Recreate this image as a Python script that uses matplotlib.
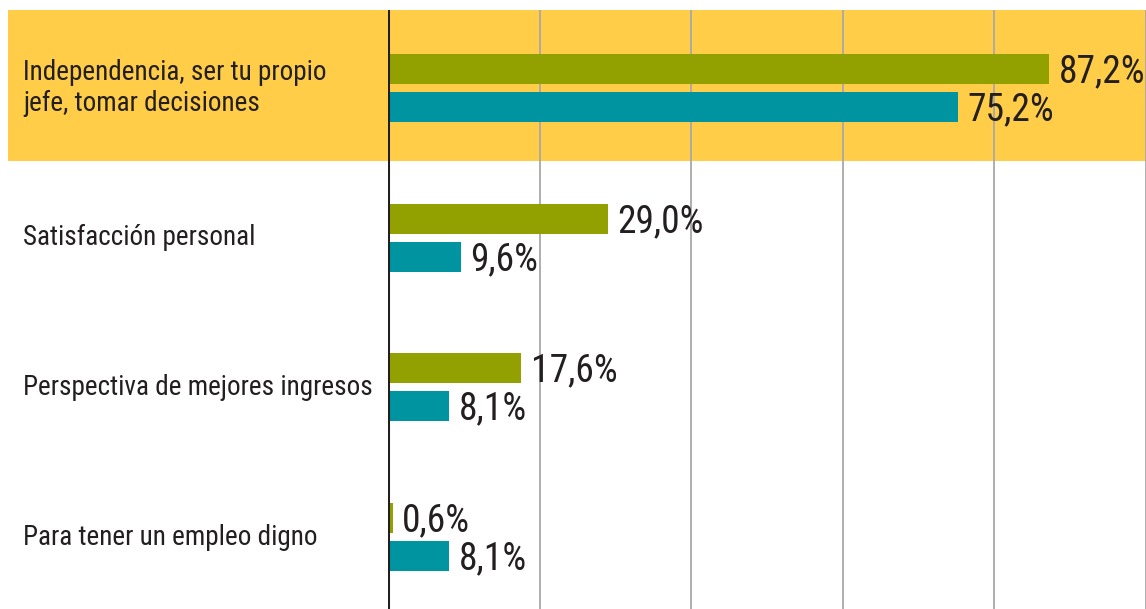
import matplotlib
matplotlib.use("Agg")
import matplotlib.pyplot as plt
from matplotlib.patches import Rectangle
from matplotlib.transforms import blended_transform_factory
from matplotlib import font_manager as fm
import numpy as np
import os

categories = ["Independencia, ser tu propio\njefe, tomar decisiones",
              "Satisfacción personal",
              "Perspectiva de mejores ingresos",
              "Para tener un empleo digno"]
series_a = [87.2, 29.0, 17.6, 0.6]   # green
series_b = [75.2, 9.6, 8.1, 8.1]     # teal
gridlines = [20, 40, 60, 80, 100]

GREEN = "#93A100"
TEAL = "#0093A0"
YELLOW = "#FFCD48"
TEXT = "#231F20"

# look for a condensed / narrow regular face
def find_condensed():
    prefs = ["liberationsansnarrow-regular", "robotocondensed-regular",
             "opensans_condensed-regular", "opensanscondensed-regular",
             "dejavusanscondensed.ttf", "notosans-condensed",
             "notosanscondensed-regular"]
    files = [f.fname for f in fm.fontManager.ttflist]
    low = {os.path.basename(f).lower(): f for f in files}
    for p in prefs:
        for k, f in low.items():
            if k.startswith(p) or k == p:
                return f
    for k, f in low.items():
        if ("narrow" in k or "condensed" in k) and not any(
                s in k for s in ("bold", "italic", "oblique", "light", "semi", "medium", "black", "thin")):
            return f
    return None

cf = find_condensed()
if cf:
    FP = dict(fontproperties=fm.FontProperties(fname=cf))
    narrow = True
else:
    FP = dict(family="DejaVu Sans", fontstretch="condensed")
    narrow = False

W, H = 1146, 609
fig = plt.figure(figsize=(W / 100, H / 100), dpi=100)
fig.patch.set_facecolor("white")

fig.patches.append(Rectangle((8 / W, 1 - 161 / H), 1 - 8 / W, 151 / H,
                             transform=fig.transFigure, facecolor=YELLOW,
                             edgecolor="none", zorder=0))

ax = fig.add_axes([388 / W, 0, 1 - 388 / W, 1 - 10 / H])
ax.set_facecolor("none")
ax.set_zorder(1)

y = np.arange(len(categories))
bh = 0.2
off = 0.127
ax.barh(y - off, series_a, height=bh, color=GREEN, zorder=3)
ax.barh(y + off, series_b, height=bh, color=TEAL, zorder=3)

for v in gridlines:
    ax.axvline(v, color="#A8A8A8", lw=1.3, zorder=2)
ax.axvline(0, color="#231F20", lw=2.2, zorder=4)

ax.set_xlim(0, 100)
ax.set_ylim(3.481, -0.521)
for s in ax.spines.values():
    s.set_visible(False)
ax.set_xticks([])
ax.set_yticks([])

def fmt(v):
    return f"{v:.1f}".replace(".", ",") + "%"

vsize = 27 if narrow else 22
csize = 19.5 if narrow else 15.5

for yi, a, b in zip(y, series_a, series_b):
    t1 = ax.annotate(fmt(a), (a, yi - off), xytext=(7, -2), textcoords="offset points",
                     ha="left", va="center", color=TEXT, zorder=5,
                     annotation_clip=False, **FP)
    t2 = ax.annotate(fmt(b), (b, yi + off), xytext=(7, -2), textcoords="offset points",
                     ha="left", va="center", color=TEXT, zorder=5,
                     annotation_clip=False, **FP)
    t1.set_fontsize(vsize)
    t2.set_fontsize(vsize)

tr = blended_transform_factory(fig.transFigure, ax.transData)
for yi, lab in zip(y, categories):
    t = ax.text(23 / W, yi, lab, transform=tr, ha="left", va="center",
                color=TEXT, linespacing=1.2, clip_on=False, **FP)
    t.set_fontsize(csize)

fig.savefig("out.png", dpi=100, facecolor="white")
